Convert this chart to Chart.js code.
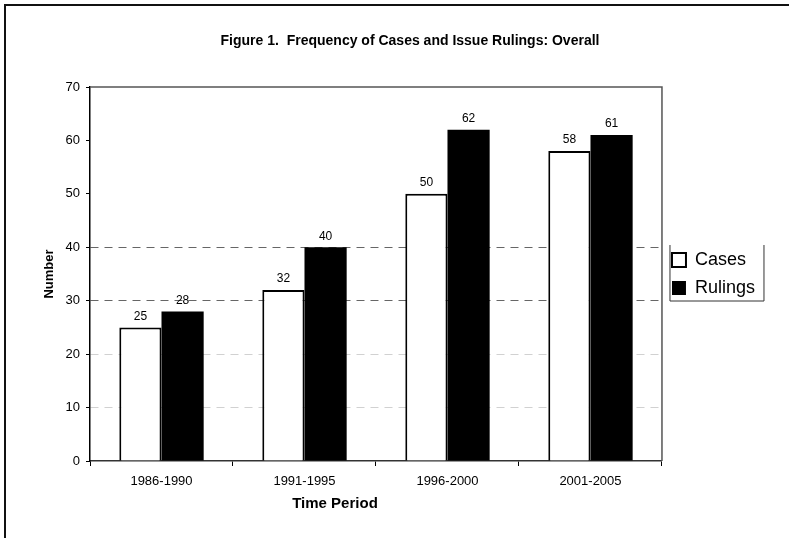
<!DOCTYPE html>
<html lang="en">
<head>
<meta charset="UTF-8">
<title>Figure 1. Frequency of Cases and Issue Rulings: Overall</title>
<script src="https://cdn.jsdelivr.net/npm/chart.js"></script>
<style>
  body { margin: 0; background: #fff; }
</style>
</head>
<body>
<canvas id="chart" width="789" height="538"></canvas>
<script>
const periods = ['1986-1990', '1991-1995', '1996-2000', '2001-2005'];
const cases = [25, 32, 50, 58];
const rulings = [28, 40, 62, 61];

const FONT = '"Liberation Sans", Arial, Helvetica, sans-serif';

// page frame, chart title, x title, plot border, legend box
const decor = {
    id: 'decor',
    beforeDraw(chart) {
        const ctx = chart.ctx;
        ctx.save();
        ctx.fillStyle = '#fff';
        ctx.fillRect(0, 0, chart.width, chart.height);
        ctx.strokeStyle = '#111';
        ctx.lineWidth = 2;
        ctx.beginPath();
        ctx.moveTo(5, chart.height);
        ctx.lineTo(5, 5);
        ctx.lineTo(chart.width, 5);
        ctx.stroke();
        ctx.fillStyle = '#000';
        ctx.font = 'bold 14px ' + FONT;
        ctx.textAlign = 'center';
        ctx.textBaseline = 'middle';
        ctx.fillText('Figure 1.  Frequency of Cases and Issue Rulings: Overall', 410, 41);
        ctx.restore();
    },
    afterDraw(chart) {
        const ctx = chart.ctx;
        const a = chart.chartArea;
        ctx.save();
        ctx.strokeStyle = '#555';
        ctx.lineWidth = 1.5;
        ctx.beginPath();
        ctx.moveTo(a.left, a.top);
        ctx.lineTo(a.right, a.top);
        ctx.lineTo(a.right, a.bottom);
        ctx.stroke();

        ctx.fillStyle = '#000';
        ctx.font = 'bold 15px ' + FONT;
        ctx.textAlign = 'center';
        ctx.textBaseline = 'middle';
        ctx.fillText('Time Period', 335, 504);

        // legend box (top edge lost in the scan)
        const lg = chart.legend;
        const x1 = lg.left + 8, x2 = x1 + 94;
        const hb = lg.legendHitBoxes;
        const y1 = hb[0].top - 6, y2 = hb[hb.length - 1].top + hb[hb.length - 1].height + 4;
        ctx.strokeStyle = '#333';
        ctx.lineWidth = 1;
        ctx.beginPath();
        ctx.moveTo(x1, y1);
        ctx.lineTo(x1, y2);
        ctx.lineTo(x2, y2);
        ctx.lineTo(x2, y1);
        ctx.stroke();
        ctx.restore();
    }
};

const valueLabels = {
    id: 'valueLabels',
    afterDatasetsDraw(chart) {
        const ctx = chart.ctx;
        ctx.save();
        ctx.fillStyle = '#000';
        ctx.font = '12px ' + FONT;
        ctx.textAlign = 'center';
        ctx.textBaseline = 'middle';
        chart.data.datasets.forEach((ds, i) => {
            chart.getDatasetMeta(i).data.forEach((bar, j) => {
                ctx.fillText(ds.data[j], bar.x, bar.y - 11);
            });
        });
        ctx.restore();
    }
};

new Chart(document.getElementById('chart'), {
    type: 'bar',
    data: {
        labels: periods,
        datasets: [
            {
                label: 'Cases',
                data: cases,
                backgroundColor: '#fff',
                borderColor: '#000',
                borderWidth: 2,
                categoryPercentage: 0.59,
                barPercentage: 1.0
            },
            {
                label: 'Rulings',
                data: rulings,
                backgroundColor: '#000',
                borderColor: '#000',
                borderWidth: 0,
                categoryPercentage: 0.59,
                barPercentage: 1.0
            }
        ]
    },
    options: {
        responsive: false,
        animation: false,
        layout: { padding: { left: 0, top: 87, right: 24, bottom: 0 } },
        plugins: {
            title: { display: false },
            tooltip: { enabled: false },
            legend: {
                position: 'right',
                fullSize: false,
                labels: {
                    color: '#000',
                    font: { family: FONT, size: 18 },
                    boxWidth: 14,
                    boxHeight: 14,
                    padding: 10
                }
            }
        },
        scales: {
            x: {
                afterFit(scale) { scale.height = 77; },
                grid: {
                    drawOnChartArea: false,
                    drawTicks: true,
                    tickLength: 5,
                    tickColor: '#000'
                },
                border: { display: true, color: '#333', width: 1.5 },
                ticks: {
                    color: '#000',
                    padding: 8,
                    font: { family: FONT, size: 13 }
                }
            },
            y: {
                min: 0,
                max: 70,
                afterFit(scale) { scale.width = 90; },
                grid: {
                    color(c) {
                        const v = c.tick ? c.tick.value : null;
                        if (v === 30 || v === 40) return '#666';
                        if (v === 10 || v === 20) return 'rgba(0,0,0,0.18)';
                        return 'rgba(0,0,0,0)';
                    },
                    lineWidth: 1,
                    tickLength: 4,
                    tickColor: '#000'
                },
                border: { display: true, color: '#000', width: 1.5, dash: [8, 6] },
                ticks: {
                    stepSize: 10,
                    color: '#000',
                    padding: 6,
                    font: { family: FONT, size: 13 }
                },
                title: {
                    display: true,
                    text: 'Number',
                    color: '#000',
                    font: { family: FONT, size: 13, weight: 'bold' },
                    padding: { top: 42, bottom: 0 }
                }
            }
        }
    },
    plugins: [decor, valueLabels]
});
</script>
</body>
</html>
